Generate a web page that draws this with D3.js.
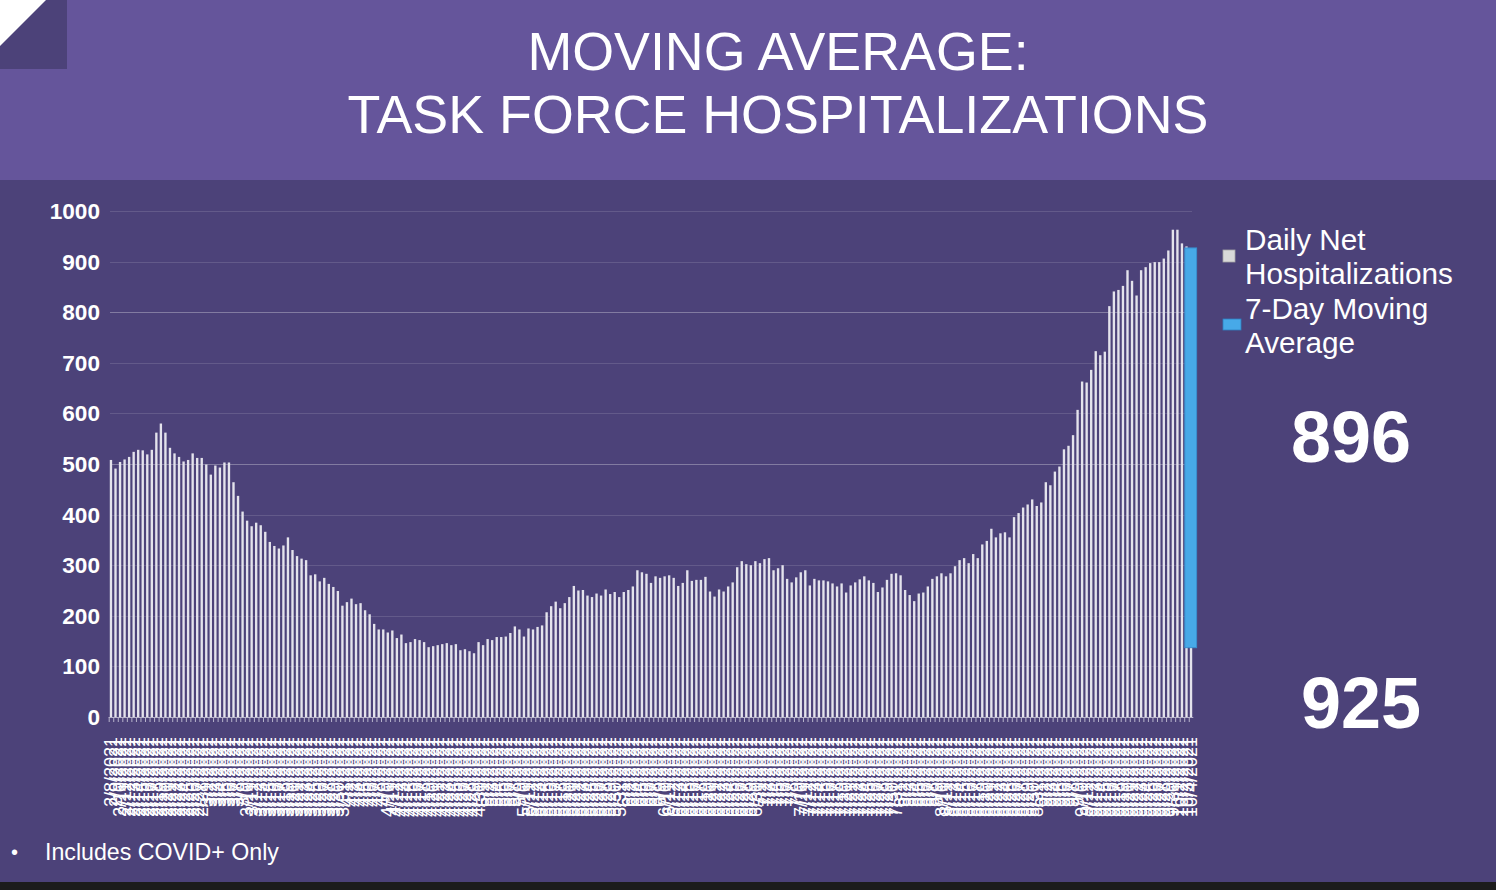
<!DOCTYPE html>
<html>
<head>
<meta charset="utf-8">
<script src="https://cdn.jsdelivr.net/npm/d3@7"></script>
<style>
  html, body { margin: 0; padding: 0; background: #1c1c1c; }
  svg { display: block; }
</style>
</head>
<body>
<svg id="chart" width="1496" height="890"></svg>
<script>
// Daily net hospitalizations, one value per day
const dailyValues = [
    508, 491, 504, 509, 514, 524, 528, 527, 519, 528,
    562, 580, 562, 532, 521, 514, 505, 508, 521, 512,
    512, 499, 479, 497, 493, 503, 503, 464, 437, 406,
    388, 377, 384, 379, 366, 346, 338, 333, 339, 355,
    330, 318, 313, 310, 280, 282, 268, 275, 263, 257,
    249, 220, 227, 234, 223, 225, 211, 203, 184, 173,
    173, 167, 171, 156, 163, 146, 148, 154, 152, 148,
    138, 140, 142, 144, 146, 142, 144, 132, 134, 130,
    126, 148, 142, 154, 152, 158, 158, 159, 166, 179,
    173, 159, 175, 173, 178, 181, 207, 219, 228, 215,
    225, 237, 259, 250, 251, 240, 237, 244, 240, 252,
    243, 247, 237, 247, 251, 258, 290, 286, 283, 265,
    278, 275, 278, 280, 275, 259, 265, 290, 269, 271,
    271, 277, 248, 238, 252, 248, 258, 266, 296, 308,
    302, 300, 308, 304, 312, 314, 290, 294, 300, 273,
    266, 276, 286, 290, 260, 273, 270, 270, 268, 264,
    258, 264, 246, 260, 266, 272, 278, 270, 265, 247,
    256, 271, 283, 284, 280, 251, 241, 229, 244, 246,
    258, 273, 278, 284, 278, 284, 298, 310, 314, 304,
    322, 314, 341, 348, 372, 355, 363, 365, 355, 395,
    403, 414, 420, 430, 417, 424, 464, 458, 485, 495,
    529, 536, 557, 607, 663, 661, 686, 723, 715, 722,
    812, 841, 844, 852, 883, 862, 833, 883, 889, 897,
    899, 899, 906, 922, 963, 963, 936, 930, 896
];

// one category per day
const dates = d3.timeDay.range(new Date(2021, 1, 8), new Date(2021, 9, 5));
const dateLabel = d3.timeFormat("%-m/%-d/%Y");

// 7-day moving average, drawn as a band at the last days
const movingAvgRange = [137, 927];

const yTicks = [0, 100, 200, 300, 400, 500, 600, 700, 800, 900, 1000];
const titleLines = ["MOVING AVERAGE:", "TASK FORCE HOSPITALIZATIONS"];
const legendItems = [
    { lines: ["Daily Net", "Hospitalizations"], color: "#d9d9d9" },
    { lines: ["7-Day Moving", "Average"], color: "#47a9e8" }
];
const bigNumbers = ["896", "925"];
const footnote = "Includes COVID+ Only";

const svg = d3.select("#chart");
const font = "'Liberation Sans', Arial, sans-serif";

// backgrounds
svg.append("rect").attr("width", 1496).attr("height", 882).attr("fill", "#4c4279");
svg.append("rect").attr("width", 1496).attr("height", 180).attr("fill", "#65559b");
svg.append("rect").attr("width", 67).attr("height", 69).attr("fill", "#4c4279");
svg.append("path").attr("d", "M0,0 L46,0 L0,46 Z").attr("fill", "#ffffff");

// title
svg.append("g")
    .selectAll("text")
    .data(titleLines)
    .enter()
    .append("text")
    .attr("x", 778)
    .attr("y", (d, i) => 70 + i * 63)
    .attr("text-anchor", "middle")
    .attr("font-family", font)
    .attr("font-size", 53.8)
    .attr("fill", "#ffffff")
    .text(d => d);

// scales
const x = d3.scaleBand()
    .domain(dates)
    .range([108.7, 1193.3])
    .paddingInner(0.48)
    .paddingOuter(0.24);

const y = d3.scaleLinear()
    .domain([0, 1000])
    .range([717, 211]);

// grid lines
svg.append("g")
    .selectAll("line")
    .data(yTicks.filter(t => t > 0))
    .enter()
    .append("line")
    .attr("x1", 110)
    .attr("x2", 1192)
    .attr("y1", d => Math.round(y(d)) + 0.5)
    .attr("y2", d => Math.round(y(d)) + 0.5)
    .attr("stroke", "#ffffff")
    .attr("stroke-opacity", d => (d === 500 || d === 800) ? 0.3 : 0.13)
    .attr("stroke-width", 1);

// y labels
svg.append("g")
    .selectAll("text")
    .data(yTicks)
    .enter()
    .append("text")
    .attr("x", 100)
    .attr("y", d => y(d) + 8)
    .attr("text-anchor", "end")
    .attr("font-family", font)
    .attr("font-size", 22.6)
    .attr("font-weight", "bold")
    .attr("fill", "#ffffff")
    .text(d => d);

// bars
svg.append("g")
    .selectAll("rect")
    .data(dailyValues)
    .enter()
    .append("rect")
    .attr("x", (d, i) => x(dates[i]))
    .attr("width", x.bandwidth())
    .attr("y", d => y(d))
    .attr("height", d => y(0) - y(d))
    .attr("fill", "#e4e3ec");

// x axis
const xAxis = svg.append("g").attr("transform", "translate(0,717)");
xAxis.append("line")
    .attr("x1", 108.7).attr("x2", 1193.3)
    .attr("y1", 0.5).attr("y2", 0.5)
    .attr("stroke", "#b8b4cc");
xAxis.selectAll(".tick")
    .data(dates)
    .enter()
    .append("line")
    .attr("x1", d => x(d) - x.step() * 0.24 + 0.5)
    .attr("x2", d => x(d) - x.step() * 0.24 + 0.5)
    .attr("y1", 0)
    .attr("y2", 5)
    .attr("stroke", "#b8b4cc");

// date labels, rotated
svg.append("g")
    .selectAll("text")
    .data(dates)
    .enter()
    .append("text")
    .attr("transform", d => `translate(${x(d) + x.bandwidth() / 2},737) rotate(-90)`)
    .attr("dy", "0.35em")
    .attr("text-anchor", "end")
    .attr("font-family", font)
    .attr("font-size", 18)
    .attr("fill", "#ffffff")
    .text(d => dateLabel(d));

// moving average band
const lastIdx = dates.length - 2;
svg.append("rect")
    .attr("x", x(dates[lastIdx]) - 0.5)
    .attr("width", x.step() * 2.6)
    .attr("y", y(movingAvgRange[1]))
    .attr("height", y(movingAvgRange[0]) - y(movingAvgRange[1]))
    .attr("fill", "#47a9e8")
    .attr("stroke", "#3a8fd0")
    .attr("stroke-width", 1);

// legend
const legend = svg.append("g");
legendItems.forEach((item, i) => {
    const top = 250 + i * 69;
    legend.append("rect")
        .attr("x", 1223)
        .attr("y", i === 0 ? 250 : 319)
        .attr("width", i === 0 ? 12 : 18)
        .attr("height", i === 0 ? 12 : 11)
        .attr("fill", item.color)
        .attr("stroke", i === 0 ? "#a6a6a6" : "#2f7fc0")
        .attr("stroke-width", 0.8);
    item.lines.forEach((line, j) => {
        legend.append("text")
            .attr("x", 1245)
            .attr("y", top + j * 34)
            .attr("font-family", font)
            .attr("font-size", 29.7)
            .attr("fill", "#ffffff")
            .text(line);
    });
});

// big numbers
svg.append("g")
    .selectAll("text")
    .data(bigNumbers)
    .enter()
    .append("text")
    .attr("x", (d, i) => i === 0 ? 1351 : 1361)
    .attr("y", (d, i) => i === 0 ? 462 : 728)
    .attr("text-anchor", "middle")
    .attr("font-family", font)
    .attr("font-size", 72)
    .attr("font-weight", "bold")
    .attr("fill", "#ffffff")
    .text(d => d);

// footnote
svg.append("text")
    .attr("x", 11)
    .attr("y", 859)
    .attr("font-family", font)
    .attr("font-size", 20)
    .attr("fill", "#ffffff")
    .text("\u2022");
svg.append("text")
    .attr("x", 45)
    .attr("y", 860)
    .attr("font-family", font)
    .attr("font-size", 23.2)
    .attr("fill", "#ffffff")
    .text(footnote);
</script>
</body>
</html>
